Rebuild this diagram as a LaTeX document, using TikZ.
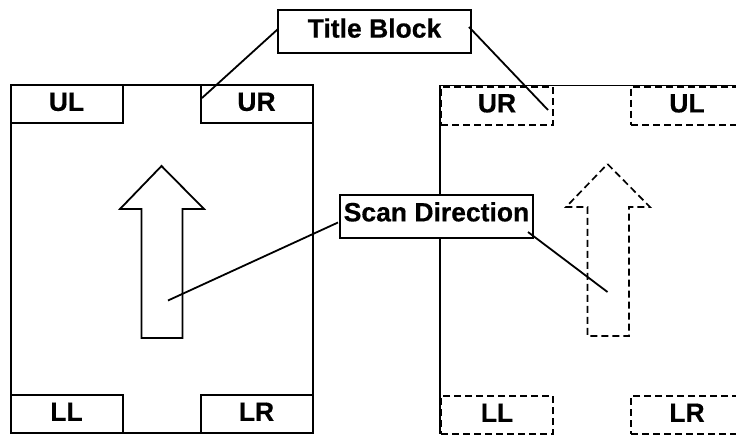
\documentclass[tikz,border=0pt]{standalone}
\usepackage{fontspec}
\setmainfont[BoldFeatures={FakeBold=0.5}]{Liberation Sans}
\tikzset{
  sheetline/.style={draw=black,line width=2pt},
  cornerbox/.style={sheetline,fill=white,minimum width=112pt,minimum height=38pt,inner sep=0pt,text depth=3.5pt,font=\fontsize{26.5}{30}\selectfont\bfseries},
  ghostbox/.style={cornerbox,fill=none,text depth=4.5pt,dash pattern=on 7pt off 4pt},
  labelbox/.style={sheetline,fill=white,minimum width=193pt,minimum height=43pt,inner sep=0pt,font=\fontsize{26.5}{30}\selectfont\bfseries},
  leader/.style={draw=black,line width=1.8pt},
  ghostarrow/.style={draw=black,line width=1.7pt,dash pattern=on 7pt off 4pt},
  sheetnode/.style={sheetline,minimum width=302pt,minimum height=348pt,inner sep=0pt}
}
\begin{document}
\begin{tikzpicture}[x=1pt,y=-1pt]
\useasboundingbox (0,0) rectangle (736,434);
\clip (0,0) rectangle (736,434);
\fill[white] (0,0) rectangle (736,434);
% left sheet
\node[sheetnode] (leftsheet) at (161.5,258.5) {};
\node[cornerbox] (lul) at (66.5,103.5) {UL};
\node[cornerbox] (lur) at (256.5,103.5) {UR};
\node[cornerbox] (lll) at (66.5,413.5) {LL};
\node[cornerbox] (llr) at (256.5,413.5) {LR};
\draw[sheetline,line width=1.8pt,line join=miter] (161.5,166) -- (204,209) -- (182.5,209) -- (182.5,338) -- (141.5,338) -- (141.5,209) -- (120,209) -- cycle;
% right sheet
\draw[draw=black,line width=1pt] (736,85.5) -- (440,85.5);
\draw[sheetline] (440,85) -- (440,434);
\node[ghostbox] (rur) at (497,105.5) {UR};
\node[ghostbox] (rul) at (687,105.5) {UL};
\node[ghostbox] (rll) at (497,415) {LL};
\node[ghostbox] (rlr) at (687,415) {LR};
\draw[ghostarrow] (607.5,164) -- (650,207) -- (629,207) -- (629,336) -- (587.5,336) -- (587.5,207) -- (566,207) -- cycle;
% labels
\node[labelbox,text depth=7pt] (title) at (374.5,31.5) {Title Block\hspace{2pt}};
\node[labelbox,text depth=8.5pt] (scan) at (436.5,216) {Scan Direction\hspace{4pt}};
% connector ends
\coordinate (titleL) at (278,29);
\coordinate (titleR) at (469,27);
\coordinate (scanL) at (338,222.5);
\coordinate (scanR) at (528,232);
\coordinate (hitUL) at (202,98);
\coordinate (hitUR) at (548,110);
\coordinate (hitAL) at (168,300.5);
\coordinate (hitAR) at (607.5,292);
\draw[leader] (titleL) -- (hitUL);
\draw[leader] (titleR) -- (hitUR);
\draw[leader] (scanL) -- (hitAL);
\draw[leader] (scanR) -- (hitAR);
\end{tikzpicture}
\end{document}
